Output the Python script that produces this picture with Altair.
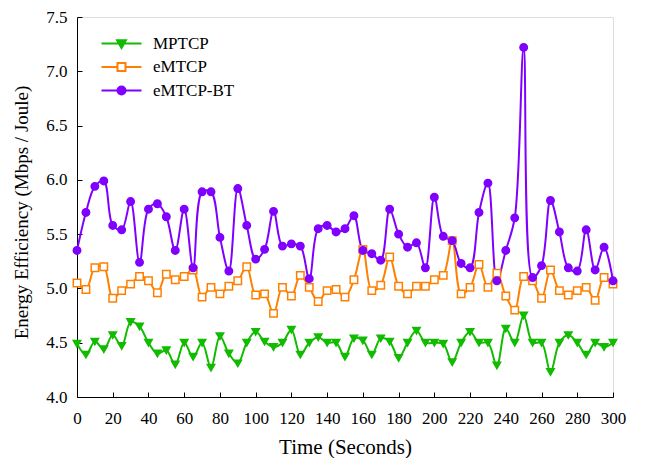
import altair as alt
import pandas as pd

# ---- data ----
time = [0, 5, 10, 15, 20, 25, 30, 35, 40, 45, 50, 55, 60, 65, 70, 75, 80, 85, 90, 95,
        100, 105, 110, 115, 120, 125, 130, 135, 140, 145, 150, 155, 160, 165, 170, 175,
        180, 185, 190, 195, 200, 205, 210, 215, 220, 225, 230, 235, 240, 245, 250, 255,
        260, 265, 270, 275, 280, 285, 290, 295, 300]

mptcp = [4.49, 4.39, 4.51, 4.44, 4.57, 4.47, 4.69, 4.65, 4.50, 4.40,
         4.43, 4.30, 4.50, 4.37, 4.50, 4.27, 4.56, 4.40, 4.31, 4.50,
         4.60, 4.51, 4.46, 4.50, 4.62, 4.39, 4.50, 4.55, 4.50, 4.50,
         4.37, 4.54, 4.52, 4.39, 4.54, 4.51, 4.36, 4.50, 4.61, 4.50,
         4.50, 4.49, 4.32, 4.50, 4.60, 4.50, 4.50, 4.29, 4.63, 4.50,
         4.75, 4.50, 4.50, 4.23, 4.50, 4.57, 4.50, 4.39, 4.50, 4.46, 4.50]

emtcp = [5.05, 4.99, 5.19, 5.20, 4.91, 4.98, 5.04, 5.11, 5.07, 4.96,
         5.13, 5.08, 5.11, 5.17, 4.92, 5.01, 4.95, 5.02, 5.07, 5.20,
         4.94, 4.95, 4.77, 5.01, 4.93, 5.12, 5.01, 4.88, 4.98, 4.99,
         4.92, 5.08, 5.36, 4.98, 5.03, 5.29, 5.02, 4.95, 5.02, 5.02,
         5.08, 5.12, 5.44, 4.95, 5.01, 5.22, 5.01, 5.14, 4.93, 4.80,
         5.11, 5.07, 4.91, 5.17, 4.98, 4.94, 4.98, 5.01, 4.89, 5.10, 5.04]

emtcp_bt = [5.35, 5.70, 5.94, 5.99, 5.58, 5.54, 5.80, 5.24, 5.73, 5.78,
            5.66, 5.35, 5.73, 5.19, 5.89, 5.89, 5.47, 5.16, 5.92, 5.58,
            5.27, 5.36, 5.71, 5.39, 5.41, 5.39, 5.09, 5.55, 5.58, 5.52,
            5.55, 5.67, 5.35, 5.32, 5.26, 5.73, 5.50, 5.38, 5.42, 5.19,
            5.84, 5.48, 5.44, 5.23, 5.19, 5.70, 5.97, 5.07, 5.35, 5.65,
            7.22, 5.10, 5.21, 5.81, 5.52, 5.19, 5.16, 5.54, 5.17, 5.38, 5.07]

series_names = ["MPTCP", "eMTCP", "eMTCP-BT"]
x_ticks = [0, 20, 40, 60, 80, 100, 120, 140, 160, 180, 200, 220, 240, 260, 280, 300]
y_ticks = [4.0, 4.5, 5.0, 5.5, 6.0, 6.5, 7.0, 7.5]

# ---- styles ----
colors = ["#11bb00", "#ff8000", "#8000ff"]
fills = ["#11bb00", "#ffffff", "#8000ff"]
shapes = ["triangle-down", "square", "circle"]
legend_paths = [
    "M-5,0H5M-1.1,-0.8L1.1,-0.8L0,1.1Z",
    "M-5,0H-1M1,0H5M-1,-1H1V1H-1Z",
    "M-5,0H5M-1,0A1,1,0,1,0,1,0A1,1,0,1,0,-1,0Z",
]
FONT = "Liberation Serif"

rows = []
for name, vals in zip(series_names, [mptcp, emtcp, emtcp_bt]):
    for t, v in zip(time, vals):
        rows.append({"time": t, "value": v, "series": name, "name": name})
df = pd.DataFrame(rows)

x_scale = alt.Scale(domain=[0, 300], nice=False, zero=False)
y_scale = alt.Scale(domain=[4.0, 7.5], nice=False, zero=False)

base = alt.Chart(df)

# main axes (labels + domain, no ticks)
lines = base.mark_line(interpolate="catmull-rom", strokeWidth=2).encode(
    x=alt.X("time:Q", scale=x_scale, axis=alt.Axis(
        orient="bottom", values=x_ticks, ticks=False, grid=False,
        domainColor="black", labelColor="black", labelFont=FONT, labelFontSize=17,
        labelPadding=13, labelFlush=False,
        title="Time (Seconds)", titleFont=FONT, titleFontSize=21,
        titleFontWeight="normal", titleColor="black", titlePadding=10)),
    y=alt.Y("value:Q", scale=y_scale, axis=alt.Axis(
        orient="left", values=y_ticks, format=".1f", ticks=False, grid=False,
        domainColor="black", labelColor="black", labelFont=FONT, labelFontSize=17,
        labelPadding=10, labelFlush=False,
        title="Energy Efficiency (Mbps / Joule)", titleFont=FONT, titleFontSize=19,
        titleFontWeight="normal", titleColor="black", titlePadding=14, titleY=195)),
    color=alt.Color("series:N", scale=alt.Scale(domain=series_names, range=colors), legend=None),
    detail="series:N",
)

# markers + inward tick marks
points = base.mark_point(opacity=1, strokeWidth=1.5, size=55).encode(
    x=alt.X("time:Q", scale=x_scale, axis=alt.Axis(
        orient="bottom", values=x_ticks, offset=-5, tickSize=5, tickColor="black",
        labels=False, domain=False, grid=False, title=None)),
    y=alt.Y("value:Q", scale=y_scale, axis=alt.Axis(
        orient="left", values=y_ticks, offset=-5, tickSize=5, tickColor="black",
        labels=False, domain=False, grid=False, title=None)),
    shape=alt.Shape("series:N", scale=alt.Scale(domain=series_names, range=shapes), legend=None),
    stroke=alt.Stroke("series:N", scale=alt.Scale(domain=series_names, range=colors), legend=None),
    fill=alt.Fill("series:N", scale=alt.Scale(domain=series_names, range=fills), legend=None),
)

# legend only layer (no rows drawn)
legend_cfg = alt.Legend(
    orient="none", legendX=36, legendY=18, title=None,
    symbolSize=64, symbolStrokeWidth=2, symbolOpacity=1,
    labelFont=FONT, labelFontSize=17, labelColor="black", labelOffset=23,
    rowPadding=5.5)
legend_layer = base.transform_filter("datum.time < 0").mark_point(opacity=1, strokeWidth=2).encode(
    x=alt.X("time:Q", scale=x_scale, axis=None),
    y=alt.Y("value:Q", scale=y_scale, axis=None),
    shape=alt.Shape("name:N", scale=alt.Scale(domain=series_names, range=legend_paths), legend=legend_cfg),
    stroke=alt.Stroke("name:N", scale=alt.Scale(domain=series_names, range=colors), legend=legend_cfg),
    fill=alt.Fill("name:N", scale=alt.Scale(domain=series_names, range=fills), legend=legend_cfg),
)

chart = alt.layer(lines, points, legend_layer).resolve_scale(
    color="independent", stroke="independent", fill="independent", shape="independent"
).resolve_axis(
    x="independent", y="independent"
).resolve_legend(
    shape="independent", stroke="independent", fill="independent"
).properties(
    width=536, height=380,
    autosize=alt.AutoSizeParams(type="none"),
    padding={"left": 69, "top": 9, "right": 20, "bottom": 61},
).configure_view(
    stroke="black", strokeWidth=1
).configure(
    background="white"
)

chart.save("out.html", embed_options={"renderer": "svg", "actions": False})
